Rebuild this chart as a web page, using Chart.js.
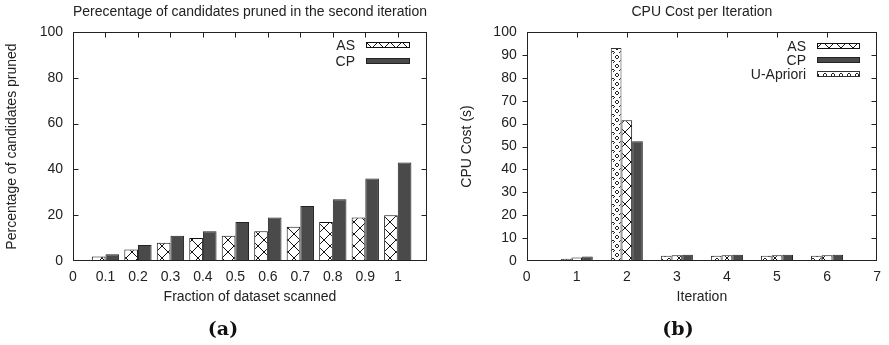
<!DOCTYPE html>
<html><head><meta charset="utf-8">
<script src="https://cdn.jsdelivr.net/npm/chart.js@4.4.0/dist/chart.umd.min.js"></script>
<style>
html,body{margin:0;padding:0;background:#fff;width:889px;height:345px;overflow:hidden;position:relative}
#ca{position:absolute;left:0;top:0}
#cb{position:absolute;left:445px;top:0}
.cap{position:absolute;top:316px;font:bold 19px "DejaVu Serif";color:#111;transform:translateX(-50%);line-height:24px;white-space:nowrap}
</style></head><body>
<canvas id="ca" width="445" height="345"></canvas>
<canvas id="cb" width="444" height="345"></canvas>
<div class="cap" style="left:223px">(a)</div>
<div class="cap" style="left:678px">(b)</div>
<script>
// ---- data: chart (a)
const fractions = [0.1, 0.2, 0.3, 0.4, 0.5, 0.6, 0.7, 0.8, 0.9, 1];
const asPruned = [2, 5, 8, 10, 11, 13, 15, 17, 19, 20];
const cpPruned = [3, 7, 11, 13, 17, 19, 24, 27, 36, 43];
const xTicksA = [0, 0.1, 0.2, 0.3, 0.4, 0.5, 0.6, 0.7, 0.8, 0.9, 1];
const xTickLabelsA = ['0', '0.1', '0.2', '0.3', '0.4', '0.5', '0.6', '0.7', '0.8', '0.9', '1'];
const yTicksA = [0, 20, 40, 60, 80, 100];
// ---- data: chart (b)
const iterations = [1, 2, 3, 4, 5, 6];
const uaCost = [1.0, 93, 2.3, 2.3, 2.3, 2.3];
const asCost = [1.5, 61.5, 2.5, 2.5, 2.5, 2.5];
const cpCost = [2.0, 52.3, 2.7, 2.7, 2.7, 2.7];
const xTicksB = [0, 1, 2, 3, 4, 5, 6, 7];
const yTicksB = [0, 10, 20, 30, 40, 50, 60, 70, 80, 90, 100];

const TXT = '#222';
const FONT = {family: '"Liberation Sans", Arial, sans-serif', size: 14};

function makeHatch() {
  const c = document.createElement('canvas'); c.width = 12; c.height = 12;
  const g = c.getContext('2d');
  g.fillStyle = '#fff'; g.fillRect(0, 0, 12, 12);
  g.strokeStyle = '#111'; g.lineWidth = 1;
  g.beginPath(); g.moveTo(0, 0); g.lineTo(12, 12); g.moveTo(12, 0); g.lineTo(0, 12); g.stroke();
  return g.createPattern(c, 'repeat');
}
function makeDots() {
  const c = document.createElement('canvas'); c.width = 8; c.height = 9;
  const g = c.getContext('2d');
  g.fillStyle = '#fff'; g.fillRect(0, 0, 8, 9);
  g.fillStyle = '#222';
  [[3,1],[4,1],[2,2],[5,2],[2,3],[5,3],[3,4],[4,4],[0,6],[7,6],[1,7],[6,7],[0,8]].forEach(p => g.fillRect(p[0], p[1], 1, 1));
  return g.createPattern(c, 'repeat');
}
const hatch = makeHatch();
const dots = makeDots();

const framePlugin = {
  id: 'gpFrame',
  afterDatasetsDraw(chart, args, opts) {
    const {ctx, chartArea: a, scales: {x, y}} = chart;
    const L = Math.round(a.left) + 0.5, R = Math.round(a.right) - 0.5;
    const T = Math.round(a.top) + 0.5, B = Math.round(a.bottom) - 0.5;
    ctx.save();
    ctx.strokeStyle = '#222'; ctx.lineWidth = 1;
    ctx.beginPath();
    x.ticks.forEach(t => {
      const px = Math.round(x.getPixelForValue(t.value)) + 0.5;
      if (px <= L + 1 || px >= R - 1) return;
      ctx.moveTo(px, T); ctx.lineTo(px, T + 5);
    });
    y.ticks.forEach(t => {
      const py = Math.round(y.getPixelForValue(t.value)) + 0.5;
      if (py <= T + 1 || py >= B - 1) return;
      if (opts.leftOut) { ctx.moveTo(L - 5, py); ctx.lineTo(L, py); }
      else { ctx.moveTo(L, py); ctx.lineTo(L + 5, py); }
      ctx.moveTo(R, py); ctx.lineTo(R - 5, py);
    });
    ctx.stroke();
    ctx.strokeRect(L, T, R - L, B - T);
    ctx.restore();
  }
};

const legendPlugin = {
  id: 'gpLegend',
  afterDatasetsDraw(chart, args, opts) {
    const {ctx, chartArea: a} = chart;
    ctx.save();
    opts.order.forEach((di, row) => {
      const ds = chart.data.datasets[di];
      const yc = Math.round(a.top + opts.firstY + row * opts.step);
      const sx = Math.round(a.right - opts.gap - opts.w);
      ctx.fillStyle = ds.backgroundColor;
      ctx.fillRect(sx, yc - 3, opts.w, 6);
      ctx.strokeStyle = ds.borderColor; ctx.lineWidth = 1;
      ctx.strokeRect(sx + 0.5, yc - 2.5, opts.w - 1, 5);
      ctx.fillStyle = TXT;
      ctx.font = FONT.size + 'px ' + FONT.family;
      ctx.textAlign = 'right'; ctx.textBaseline = 'middle';
      ctx.fillText(ds.label, sx - 11, yc + 1);
    });
    ctx.restore();
  }
};

function labelFrom(ticks, labels) {
  return v => { const i = ticks.indexOf(v); return i >= 0 ? labels[i] : ''; };
}

// ---- chart (a)
new Chart(document.getElementById('ca'), {
  type: 'bar',
  data: {
    datasets: [
      {label: 'AS', data: fractions.map((f, i) => ({x: f, y: asPruned[i]})),
       backgroundColor: hatch, borderColor: '#111', borderWidth: 1, borderSkipped: false,
       categoryPercentage: 0.84, barPercentage: 1},
      {label: 'CP', data: fractions.map((f, i) => ({x: f, y: cpPruned[i]})),
       backgroundColor: '#4a4a4a', borderColor: '#222', borderWidth: 1, borderSkipped: false,
       categoryPercentage: 0.84, barPercentage: 1}
    ]
  },
  options: {
    responsive: false, animation: false, events: [],
    layout: {padding: {left: 0, right: 18, top: 0, bottom: 32}},
    plugins: {
      legend: {display: false}, tooltip: {enabled: false},
      title: {display: true, fullSize: false, text: 'Perecentage of candidates pruned in the second iteration',
              color: TXT, font: {...FONT, weight: 'normal'}, padding: {top: 3.6, bottom: 11.6}},
      gpFrame: {leftOut: false},
      gpLegend: {order: [0, 1], firstY: 13, step: 15.5, w: 44, gap: 17}
    },
    scales: {
      x: {type: 'linear', min: 0, max: 1.09, offset: false,
          grid: {display: false, drawTicks: false, offset: false}, border: {display: false},
          afterBuildTicks: s => { s.ticks = xTicksA.map(v => ({value: v})); },
          ticks: {padding: 8, color: TXT, font: FONT, autoSkip: false, maxRotation: 0,
                  callback: labelFrom(xTicksA, xTickLabelsA)},
          title: {display: true, text: 'Fraction of dataset scanned', color: TXT, font: FONT, padding: {top: 0, bottom: 7}},
          afterFit: s => { s.height = 52; }},
      y: {min: 0, max: 100,
          grid: {display: false, drawTicks: false}, border: {display: false},
          afterBuildTicks: s => { s.ticks = yTicksA.map(v => ({value: v})); },
          ticks: {padding: 10, color: TXT, font: FONT, callback: v => String(v)},
          title: {display: true, text: 'Percentage of candidates pruned', color: TXT, font: FONT, padding: {top: 4, bottom: 0}},
          afterFit: s => { s.width = 73; }}
    }
  },
  plugins: [framePlugin, legendPlugin]
});

// ---- chart (b)
new Chart(document.getElementById('cb'), {
  type: 'bar',
  data: {
    datasets: [
      {label: 'U-Apriori', data: iterations.map((it, i) => ({x: it, y: uaCost[i]})),
       backgroundColor: dots, borderColor: '#333', borderWidth: 1, borderSkipped: false,
       categoryPercentage: 0.64, barPercentage: 1},
      {label: 'AS', data: iterations.map((it, i) => ({x: it, y: asCost[i]})),
       backgroundColor: hatch, borderColor: '#111', borderWidth: 1, borderSkipped: false,
       categoryPercentage: 0.64, barPercentage: 1},
      {label: 'CP', data: iterations.map((it, i) => ({x: it, y: cpCost[i]})),
       backgroundColor: '#4a4a4a', borderColor: '#222', borderWidth: 1, borderSkipped: false,
       categoryPercentage: 0.64, barPercentage: 1}
    ]
  },
  options: {
    responsive: false, animation: false, events: [],
    layout: {padding: {left: 0, right: 8.3, top: 0, bottom: 32}},
    plugins: {
      legend: {display: false}, tooltip: {enabled: false},
      title: {display: true, fullSize: false, text: 'CPU Cost per Iteration',
              color: TXT, font: {...FONT, weight: 'normal'}, padding: {top: 3.6, bottom: 11.6}},
      gpFrame: {leftOut: true},
      gpLegend: {order: [1, 2, 0], firstY: 13.5, step: 14, w: 43, gap: 17}
    },
    scales: {
      x: {type: 'linear', min: 0, max: 7, offset: false,
          grid: {display: false, drawTicks: false, offset: false}, border: {display: false},
          afterBuildTicks: s => { s.ticks = xTicksB.map(v => ({value: v})); },
          ticks: {padding: 8, color: TXT, font: FONT, autoSkip: false, maxRotation: 0, callback: v => String(v)},
          title: {display: true, text: 'Iteration', color: TXT, font: FONT, padding: {top: 0, bottom: 7}},
          afterFit: s => { s.height = 52; }},
      y: {min: 0, max: 100,
          grid: {display: false, drawTicks: false}, border: {display: false},
          afterBuildTicks: s => { s.ticks = yTicksB.map(v => ({value: v})); },
          ticks: {padding: 10, color: TXT, font: FONT, callback: v => String(v)},
          title: {display: true, text: 'CPU Cost (s)', color: TXT, font: FONT, padding: {top: 13.3, bottom: 0}},
          afterFit: s => { s.width = 81.7; }}
    }
  },
  plugins: [framePlugin, legendPlugin]
});
</script>
</body></html>
